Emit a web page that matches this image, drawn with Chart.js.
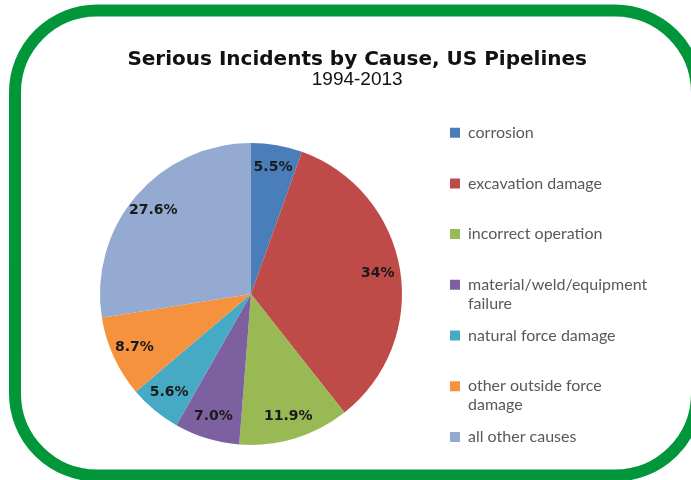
<!DOCTYPE html>
<html>
<head>
<meta charset="utf-8">
<script src="https://cdn.jsdelivr.net/npm/chart.js@4/dist/chart.umd.min.js"></script>
<style>
  html, body { margin: 0; padding: 0; background: #ffffff; }
  #wrap { width: 691px; height: 480px; }
</style>
</head>
<body>
<div id="wrap"><canvas id="c" width="691" height="480"></canvas></div>
<script>
// ---- data ----
const categories = [
  "corrosion",
  "excavation damage",
  "incorrect operation",
  ["material/weld/equipment", "failure"],
  "natural force damage",
  ["other outside force", "damage"],
  "all other causes"
];
const values = [5.5, 34, 11.9, 7.0, 5.6, 8.7, 27.6];
const valueLabels = ["5.5%", "34%", "11.9%", "7.0%", "5.6%", "8.7%", "27.6%"];
const titleText = "Serious Incidents by Cause, US Pipelines";
const subtitleText = "1994-2013";

// ---- styles ----
const sliceColors = ["#4A7EBB", "#BE4B48", "#98B954", "#7D60A0", "#46AAC5", "#F6923E", "#94AAD0"];

const framePlugin = {
  id: "frame",
  beforeDraw(chart) {
    const ctx = chart.ctx;
    ctx.save();
    ctx.fillStyle = "#ffffff";
    ctx.fillRect(0, 0, chart.width, chart.height);
    ctx.strokeStyle = "#009639";
    ctx.lineWidth = 12;
    ctx.beginPath();
    ctx.roundRect(15, 10.5, 682, 465, 82);
    ctx.stroke();
    ctx.restore();
  }
};

const sliceLabelPlugin = {
  id: "sliceLabels",
  afterDatasetsDraw(chart) {
    const ctx = chart.ctx;
    const meta = chart.getDatasetMeta(0);
    ctx.save();
    ctx.font = "bold 14px 'DejaVu Sans'";
    ctx.fillStyle = "#1a1a1a";
    ctx.textAlign = "center";
    ctx.textBaseline = "middle";
    meta.data.forEach((arc, i) => {
      const p = arc.getProps(["x", "y", "startAngle", "endAngle", "outerRadius"], true);
      const mid = (p.startAngle + p.endAngle) / 2;
      const r = p.outerRadius * 0.85;
      ctx.fillText(valueLabels[i], p.x + Math.cos(mid) * r, p.y + Math.sin(mid) * r);
    });
    ctx.restore();
  }
};

const baseGen = Chart.overrides.pie.plugins.legend.labels.generateLabels;

new Chart(document.getElementById("c"), {
  type: "pie",
  data: {
    labels: categories,
    datasets: [{
      data: values,
      backgroundColor: sliceColors,
      borderWidth: 0,
      radius: 151
    }]
  },
  options: {
    responsive: false,
    animation: false,
    events: [],
    layout: { padding: { left: 64.7, right: 41.3, top: 0, bottom: 4 } },
    plugins: {
      tooltip: { enabled: false },
      title: {
        display: true,
        text: titleText,
        color: "#111111",
        font: { family: "'DejaVu Sans'", size: 20, weight: "bold", lineHeight: "20px" },
        padding: { top: 50, bottom: 0 }
      },
      subtitle: {
        display: true,
        text: subtitleText,
        color: "#111111",
        font: { family: "'Liberation Sans'", size: 19, weight: "normal", lineHeight: "19px" },
        padding: { top: 0, bottom: 23 }
      },
      legend: {
        display: true,
        position: "right",
        align: "start",
        fullSize: false,
        maxWidth: 212.4,
        labels: {
          boxWidth: 10,
          boxHeight: 10,
          padding: 12.7,
          color: "#595959",
          font: { family: "Lato", size: 16, lineHeight: "19px" },
          generateLabels(chart) {
            const items = baseGen(chart);
            const last = items.length - 1;
            items.forEach((it, i) => {
              const lines = Array.isArray(it.text) ? it.text.slice() : [it.text];
              if (i < last) { while (lines.length < 2) lines.push(""); }
              it.text = lines;
            });
            return items;
          }
        }
      }
    }
  },
  plugins: [framePlugin, sliceLabelPlugin]
});
</script>
</body>
</html>
